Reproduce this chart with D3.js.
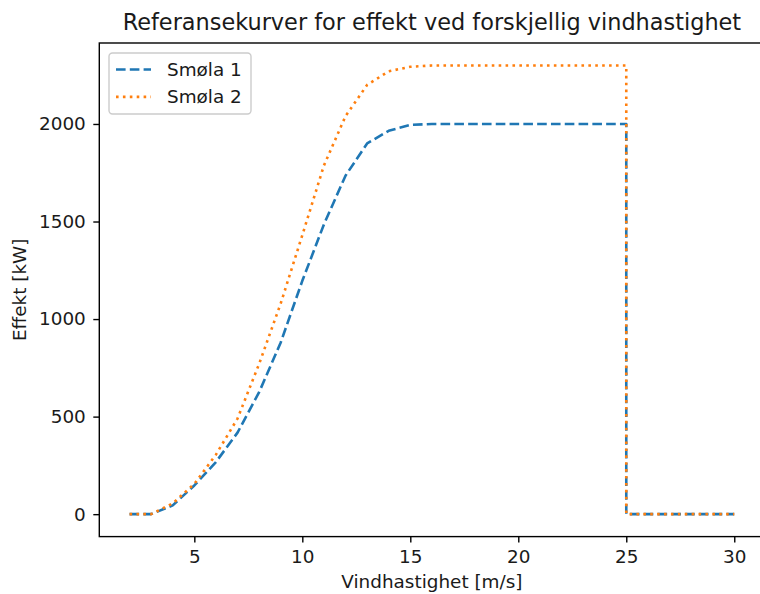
<!DOCTYPE html>
<html>
<head>
<meta charset="utf-8">
<script src="https://cdn.jsdelivr.net/npm/d3@7"></script>
<style>
  html, body { margin: 0; padding: 0; background: #fff; }
  svg { display: block; font-family: "DejaVu Sans", sans-serif; }
</style>
</head>
<body>
<svg id="chart" width="760" height="594"></svg>
<script>
// Wind speed [m/s]; the cut-out at 25 m/s is listed twice so the curve drops vertically
const windSpeed = [2, 3, 4, 5, 6, 7, 8, 9, 10, 11, 12, 13, 14, 15, 16, 17, 18, 19, 20, 21, 22, 23, 24, 25, 25, 26, 27, 28, 29, 30];

// Power output [kW] for each turbine type
const smola1 = [0, 0, 45, 147, 267, 418, 625, 880, 1196, 1485, 1735, 1900, 1965, 1995, 2000, 2000, 2000, 2000, 2000, 2000, 2000, 2000, 2000, 2000, 0, 0, 0, 0, 0, 0];
const smola2 = [0, 0, 55, 155, 305, 490, 770, 1080, 1430, 1787, 2040, 2200, 2270, 2293, 2300, 2300, 2300, 2300, 2300, 2300, 2300, 2300, 2300, 2300, 0, 0, 0, 0, 0, 0];

const seriesNames = ["Smøla 1", "Smøla 2"];
const xTicks = [5, 10, 15, 20, 25, 30];
const yTicks = [0, 500, 1000, 1500, 2000];

const titleText = "Referansekurver for effekt ved forskjellig vindhastighet";
const xLabel = "Vindhastighet [m/s]";
const yLabel = "Effekt [kW]";

const svg = d3.select("#chart");
const fontSize = 18.4;

const plot = { left: 99.3, right: 764.5, top: 43, bottom: 536.6 };

// 5% padding around the data range on both axes
const xMin = d3.min(windSpeed), xMax = d3.max(windSpeed);
const yMin = d3.min(smola1.concat(smola2)), yMax = d3.max(smola1.concat(smola2));
const xPad = (xMax - xMin) * 0.05, yPad = (yMax - yMin) * 0.05;

const x = d3.scaleLinear().domain([xMin - xPad, xMax + xPad]).range([plot.left, plot.right]);
const y = d3.scaleLinear().domain([yMin - yPad, yMax + yPad]).range([plot.bottom, plot.top]);

const series = [
  { name: seriesNames[0], values: smola1, color: "#1f77b4", dash: "9.6,4.2" },
  { name: seriesNames[1], values: smola2, color: "#ff7f0e", dash: "2.6,4.3" }
];

const line = d3.line()
  .x(d => x(d[0]))
  .y(d => y(d[1]));

const lw = 2.6;

svg.append("g").selectAll("path")
  .data(series)
  .join("path")
  .attr("d", s => line(windSpeed.map((w, i) => [w, s.values[i]])))
  .attr("fill", "none")
  .attr("stroke", s => s.color)
  .attr("stroke-width", lw)
  .attr("stroke-dasharray", s => s.dash)
  .attr("stroke-linejoin", "round");

// Axes
const xAxis = d3.axisBottom(x).tickValues(xTicks).tickSize(6).tickPadding(7).tickSizeOuter(0).tickFormat(d3.format("d"));
const yAxis = d3.axisLeft(y).tickValues(yTicks).tickSize(6).tickPadding(7.5).tickSizeOuter(0).tickFormat(d3.format("d"));

const gx = svg.append("g").attr("transform", `translate(0,${plot.bottom})`).call(xAxis);
const gy = svg.append("g").attr("transform", `translate(${plot.left},0)`).call(yAxis);

[gx, gy].forEach(g => {
  g.select(".domain").remove();
  g.selectAll(".tick line").attr("stroke", "#000").attr("stroke-width", 1.4);
  g.selectAll(".tick text")
    .attr("fill", "#1a1a1a")
    .style("font-family", "'DejaVu Sans', sans-serif")
    .style("font-size", fontSize + "px");
});

// Frame around the plotting area
svg.append("rect")
  .attr("x", plot.left)
  .attr("y", plot.top)
  .attr("width", plot.right - plot.left)
  .attr("height", plot.bottom - plot.top)
  .attr("fill", "none")
  .attr("stroke", "#000")
  .attr("stroke-width", 1.4);

const cx = (plot.left + plot.right) / 2;

svg.append("text")
  .attr("x", cx)
  .attr("y", 30)
  .attr("text-anchor", "middle")
  .style("font-size", "22.4px")
  .attr("fill", "#1a1a1a")
  .text(titleText);

svg.append("text")
  .attr("x", cx)
  .attr("y", 588)
  .attr("text-anchor", "middle")
  .style("font-size", fontSize + "px")
  .attr("fill", "#1a1a1a")
  .text(xLabel);

svg.append("text")
  .attr("transform", `translate(26,${(plot.top + plot.bottom) / 2}) rotate(-90)`)
  .attr("text-anchor", "middle")
  .style("font-size", fontSize + "px")
  .attr("fill", "#1a1a1a")
  .text(yLabel);

// Legend
const legend = svg.append("g").attr("transform", "translate(109,53)");
legend.append("rect")
  .attr("width", 142)
  .attr("height", 61)
  .attr("rx", 3.5)
  .attr("fill", "#fff")
  .attr("fill-opacity", 0.8)
  .attr("stroke", "#cccccc")
  .attr("stroke-width", 1.4);

const rows = legend.selectAll("g.row")
  .data(series)
  .join("g")
  .attr("class", "row")
  .attr("transform", (d, i) => `translate(0,${16.5 + i * 27.4})`);

rows.append("line")
  .attr("x1", 7).attr("x2", 42)
  .attr("y1", 0).attr("y2", 0)
  .attr("stroke", d => d.color)
  .attr("stroke-width", lw)
  .attr("stroke-dasharray", d => d.dash);

rows.append("text")
  .attr("x", 58)
  .attr("y", 6.5)
  .style("font-size", fontSize + "px")
  .attr("fill", "#1a1a1a")
  .text(d => d.name);
</script>
</body>
</html>
